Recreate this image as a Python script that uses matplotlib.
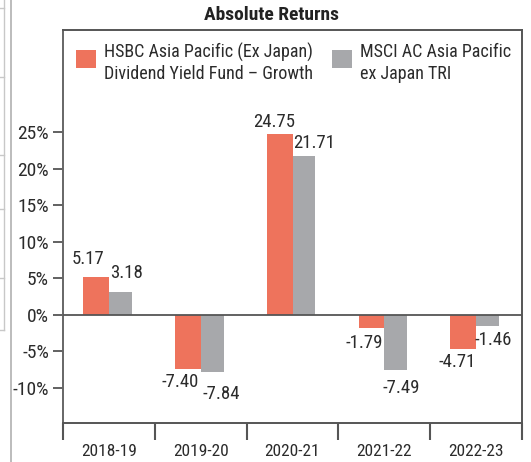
import matplotlib
matplotlib.use("Agg")
import matplotlib.pyplot as plt
from matplotlib.patches import Patch, Rectangle
from matplotlib.lines import Line2D
from matplotlib.legend_handler import HandlerPatch
import numpy as np

plt.rcParams['font.family'] = ['Liberation Sans Narrow', 'Roboto Condensed', 'Archivo Narrow', 'DejaVu Sans']

# ---- data ----
categories = ["2018-19", "2019-20", "2020-21", "2021-22", "2022-23"]
fund_values = [5.17, -7.40, 24.75, -1.79, -4.71]
index_values = [3.18, -7.84, 21.71, -7.49, -1.46]
fund_name = "HSBC Asia Pacific (Ex Japan)\nDividend Yield Fund \u2013 Growth"
index_name = "MSCI AC Asia Pacific\nex Japan TRI"
yticks = [-10, -5, 0, 5, 10, 15, 20, 25]
title = "Absolute Returns"

# ---- styles ----
ORANGE = "#EE735C"
GRAY = "#A7A8AB"
DARK = "#555555"
TXT = "#2b2b2b"
# label offsets in pixels (dx, dy)
fund_off = [(-8, 18), (-8, -13), (-6, 12), (-7, -15), (-6, -13)]
index_off = [(6, 19), (9, -22), (10, 13), (5, -18), (6, -14)]

W, H = 531, 462
fig = plt.figure(figsize=(W / 100, H / 100), dpi=100)
ax = fig.add_axes([63 / W, 1 - 423 / H, (522 - 63) / W, (423 - 30) / H])

x = np.arange(len(categories))
ax.bar(x - 0.14, fund_values, width=0.28, color=ORANGE, zorder=2)
ax.bar(x + 0.125, index_values, width=0.25, color=GRAY, zorder=2)
ax.axhline(0, color=DARK, lw=1.3, zorder=3)

for xi, v, (dx, dy) in zip(x, fund_values, fund_off):
    ax.annotate(f"{v:.2f}", xy=(xi - 0.14, v), xytext=(dx, dy), textcoords="offset pixels",
                ha="center", va="center", fontsize=13.5, color=TXT)
for xi, v, (dx, dy) in zip(x, index_values, index_off):
    ax.annotate(f"{v:.2f}", xy=(xi + 0.125, v), xytext=(dx, dy), textcoords="offset pixels",
                ha="center", va="center", fontsize=13.5, color=TXT)

ax.set_xlim(-0.5, len(categories) - 0.5)
ax.set_ylim(-14.8, 39.0)
ax.set_yticks(yticks)
ax.set_yticklabels([f"{t}%" for t in yticks])
ax.set_xticks(x)
ax.set_xticklabels(categories)
ax.set_xticks(np.arange(-0.5, len(categories)), minor=True)
ax.tick_params(axis="x", which="major", length=0, pad=15, labelsize=12.5, labelcolor=TXT)
ax.tick_params(axis="x", which="minor", length=12, width=1.5, color=DARK, direction="out")
ax.tick_params(axis="y", which="major", length=7, width=1.3, color=DARK, pad=3,
               labelsize=14, labelcolor=TXT)
for s in ax.spines.values():
    s.set_color(DARK)
    s.set_linewidth(1.4)
ax.spines["left"].set_color("#666666")


def raised_square(legend, orig_handle, xdescent, ydescent, width, height, fontsize):
    return Rectangle((-xdescent, -ydescent + 3.6), width, height)


handles = [Patch(facecolor=ORANGE, edgecolor="none"), Patch(facecolor=GRAY, edgecolor="none")]
leg = ax.legend(handles, [fund_name, index_name], ncol=2, loc="upper left",
                bbox_to_anchor=(0.0, 1.0), frameon=False, fontsize=13.0,
                handlelength=1.1, handleheight=1.1, handletextpad=0.45,
                columnspacing=1.1, borderaxespad=0.3, labelspacing=0.2,
                handler_map={Patch: HandlerPatch(patch_func=raised_square)})
for t in leg.get_texts():
    t.set_color(TXT)
    t.set_linespacing(1.25)

fig.text(271 / W, 1 - 15 / H, title, ha="center", va="center", fontsize=14,
         fontweight="bold", color="#222222")

# left-edge page artifacts
fig.add_artist(Line2D([10.5 / W, 10.5 / W], [0, 1], color="#b0b0b0", lw=1.2))
fig.add_artist(Line2D([3.5 / W, 3.5 / W], [1 - 330 / H, 1], color="#c8c8c8", lw=1.0))
for yy in [8, 77, 155, 209, 278, 330]:
    fig.add_artist(Line2D([0, 3.5 / W], [1 - yy / H, 1 - yy / H], color="#c8c8c8", lw=1.0))

fig.savefig("out.png", dpi=100)
